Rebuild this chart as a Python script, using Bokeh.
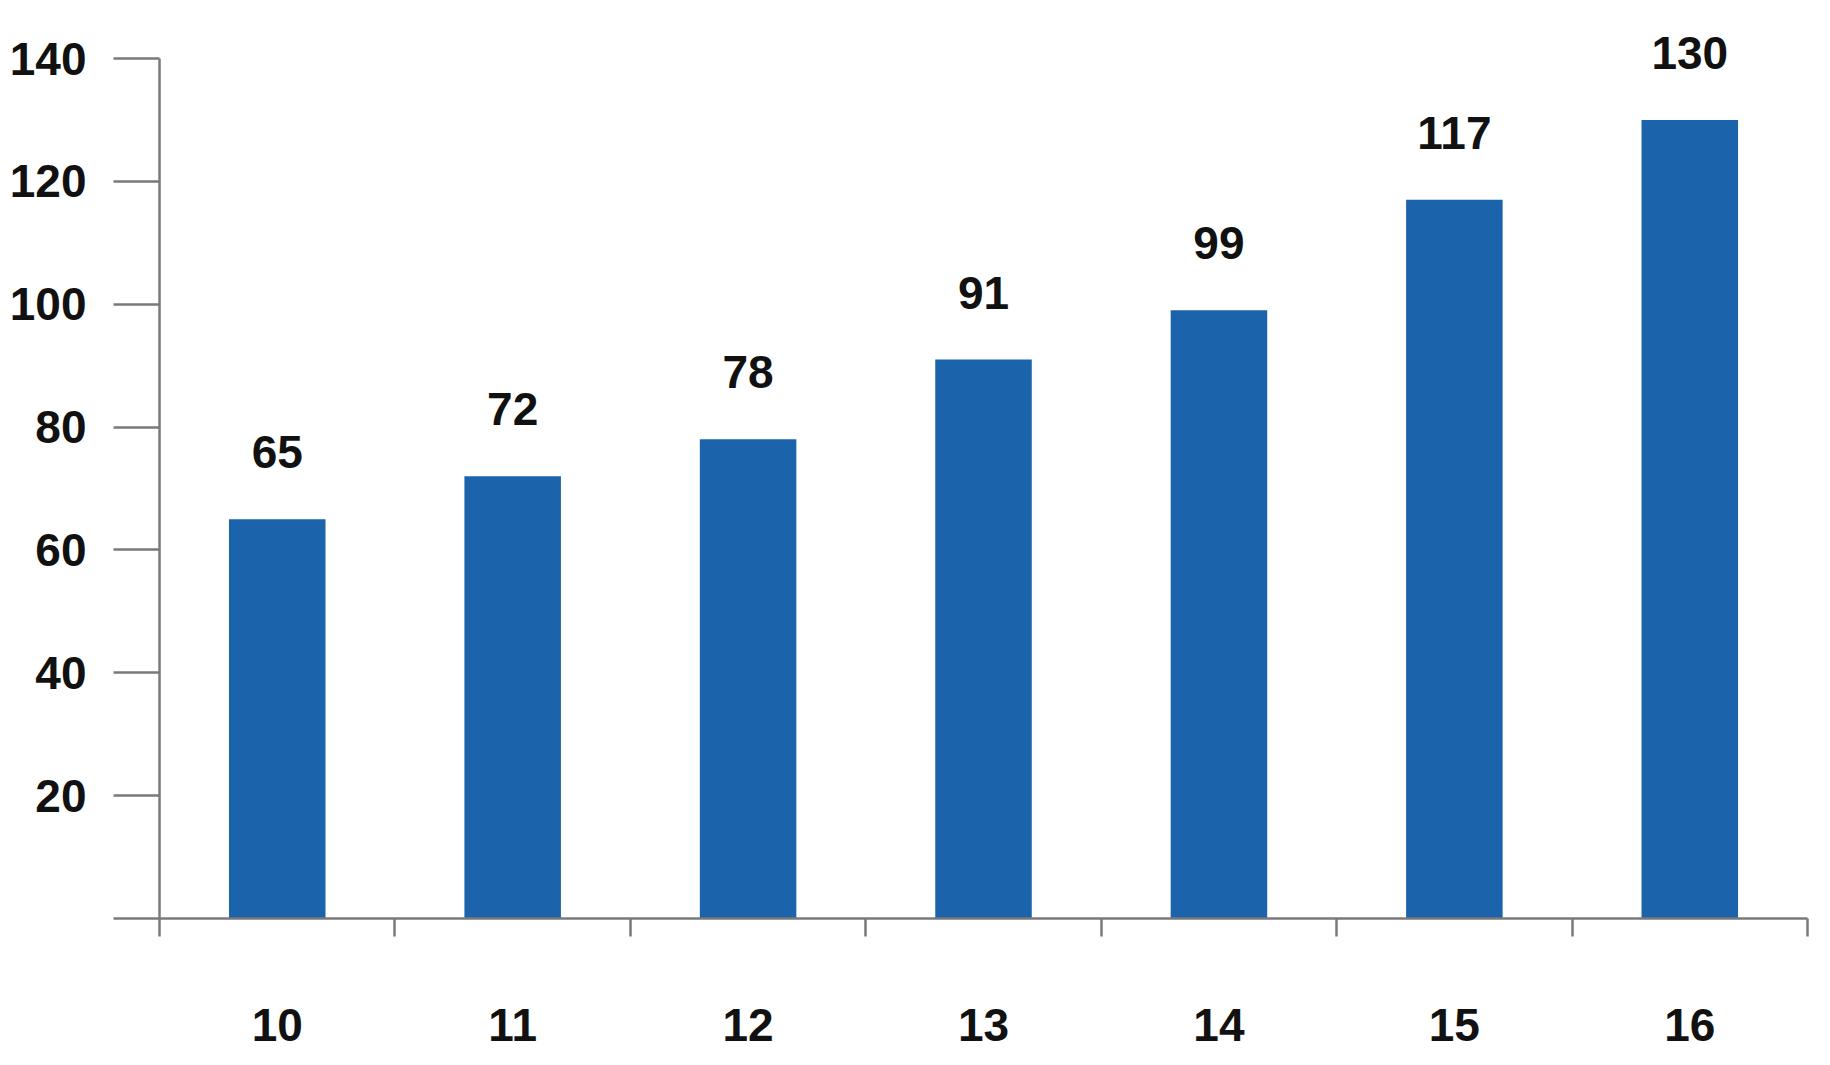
from bokeh.plotting import figure
from bokeh.models import Range1d, FixedTicker, ColumnDataSource
from bokeh.core.properties import value
from bokeh.embed import file_html
from bokeh.resources import INLINE

categories = ["10", "11", "12", "13", "14", "15", "16"]
values = [65, 72, 78, 91, 99, 117, 130]
y_ticks = [20, 40, 60, 80, 100, 120, 140]

BAR = "#1B64AC"
AXIS = "#7a7a7a"
FONT = "Liberation Sans"

xs = list(range(len(categories)))
src = ColumnDataSource(dict(x=xs, top=values, label=[str(v) for v in values]))

# frame extends a little above the top tick so the top value label is not clipped
p = figure(width=1814, height=1049, output_backend="svg", toolbar_location=None,
           x_range=Range1d(-0.6955, len(categories) - 0.5), y_range=Range1d(0, 147),
           min_border_left=113, min_border_right=7, min_border_top=15, min_border_bottom=131)
p.outline_line_color = None
p.grid.visible = False
p.background_fill_color = "white"
p.border_fill_color = "white"

p.vbar(x="x", top="top", width=0.41, bottom=0, source=src, fill_color=BAR, line_color=None)
p.text(x="x", y="top", text="label", source=src, text_align="center", text_baseline="bottom",
       y_offset=-51, text_font=value(FONT), text_font_style="bold", text_font_size="46px",
       text_color="#111111")

# y axis (ticks only; line drawn at the first category boundary)
ya = p.yaxis[0]
ya.ticker = FixedTicker(ticks=y_ticks)
ya.axis_line_color = None
ya.major_tick_in = 46
ya.major_tick_out = 0
ya.minor_tick_line_color = None
ya.major_tick_line_color = AXIS
ya.major_tick_line_width = 2.5
ya.major_label_standoff = 27
ya.major_label_text_font = FONT
ya.major_label_text_font_style = "bold"
ya.major_label_text_font_size = "46px"
ya.major_label_text_color = "#111111"

p.segment(x0=[xs[0] - 0.5], y0=[0], x1=[xs[0] - 0.5], y1=[y_ticks[-1]],
          line_color=AXIS, line_width=2.5)

# x axis
xa = p.xaxis[0]
boundaries = [i - 0.5 for i in range(len(categories) + 1)]
xa.ticker = FixedTicker(ticks=xs, minor_ticks=boundaries)
xa.major_label_overrides = {i: c for i, c in zip(xs, categories)}
xa.axis_line_color = AXIS
xa.axis_line_width = 2.5
xa.major_tick_in = 0
xa.major_tick_out = 0
xa.major_tick_line_color = None
xa.minor_tick_in = 0
xa.minor_tick_out = 18
xa.minor_tick_line_color = AXIS
xa.minor_tick_line_width = 2.5
xa.major_label_standoff = 72
xa.major_label_text_font = FONT
xa.major_label_text_font_style = "bold"
xa.major_label_text_font_size = "46px"
xa.major_label_text_color = "#111111"

open("out.html", "w").write(file_html(p, INLINE))
